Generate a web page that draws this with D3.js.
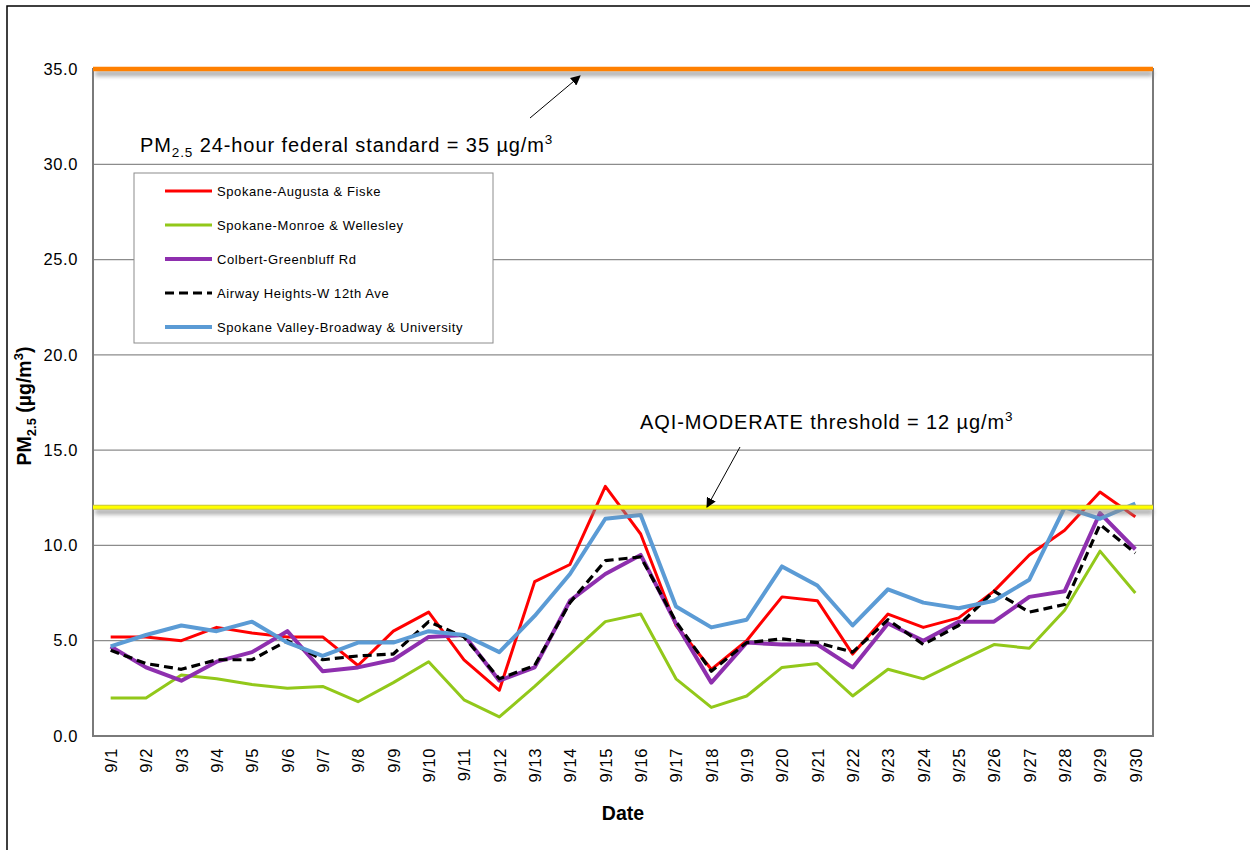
<!DOCTYPE html>
<html>
<head>
<meta charset="utf-8">
<script src="https://cdn.jsdelivr.net/npm/d3@7"></script>
<style>
  body { margin: 0; background: #fff; }
  svg text { font-family: "Liberation Sans", Arial, sans-serif; fill: #000; }
</style>
</head>
<body>
<div id="chart"></div>
<script>
// Daily PM2.5, September
const dates = ["9/1","9/2","9/3","9/4","9/5","9/6","9/7","9/8","9/9","9/10",
  "9/11","9/12","9/13","9/14","9/15","9/16","9/17","9/18","9/19","9/20",
  "9/21","9/22","9/23","9/24","9/25","9/26","9/27","9/28","9/29","9/30"]

const augusta = [5.2,5.2,5.0,5.7,5.4,5.2,5.2,3.7,5.5,6.5,4.0,2.4,8.1,9.0,13.1,10.6,5.8,3.5,5.0,7.3,7.1,4.3,6.4,5.7,6.2,7.6,9.5,10.8,12.8,11.5]
const monroe  = [2.0,2.0,3.2,3.0,2.7,2.5,2.6,1.8,2.8,3.9,1.9,1.0,2.6,4.3,6.0,6.4,3.0,1.5,2.1,3.6,3.8,2.1,3.5,3.0,3.9,4.8,4.6,6.6,9.7,7.5]
const colbert = [4.7,3.6,2.9,3.9,4.4,5.5,3.4,3.6,4.0,5.2,5.3,2.9,3.6,7.1,8.5,9.5,5.9,2.8,4.9,4.8,4.8,3.6,5.9,5.0,6.0,6.0,7.3,7.6,11.7,9.8]
const airway  = [4.5,3.8,3.5,4.0,4.0,5.0,4.0,4.2,4.3,6.0,5.2,3.0,3.7,7.0,9.2,9.4,6.0,3.4,4.9,5.1,4.9,4.4,6.1,4.8,5.8,7.6,6.5,6.9,11.1,9.6]
const valley  = [4.7,5.3,5.8,5.5,6.0,4.9,4.2,4.9,4.9,5.5,5.3,4.4,6.3,8.5,11.4,11.6,6.8,5.7,6.1,8.9,7.9,5.8,7.7,7.0,6.7,7.1,8.2,12.0,11.4,12.2]

const seriesNames = ["Spokane-Augusta & Fiske", "Spokane-Monroe & Wellesley",
  "Colbert-Greenbluff Rd", "Airway Heights-W 12th Ave", "Spokane Valley-Broadway & University"]
const yTicks = [0, 5, 10, 15, 20, 25, 30, 35]
const federalStandard = 35
const aqiModerate = 12

// styles per series (same order as seriesNames)
const styles = [
  { color: "#ff0000", width: 3, dash: null },
  { color: "#92c81a", width: 3, dash: null },
  { color: "#8e2fae", width: 4, dash: null },
  { color: "#000000", width: 3.2, dash: "9,5" },
  { color: "#5b9bd5", width: 4, dash: null }
]
const series = [augusta, monroe, colbert, airway, valley].map((values, i) => ({
  name: seriesNames[i], values, ...styles[i]
}))

const W = 1250, H = 850
const plot = { left: 93, top: 69, right: 1153, bottom: 736 }

const svg = d3.select("#chart").append("svg")
  .attr("width", W).attr("height", H)

const defs = svg.append("defs")
defs.append("filter").attr("id", "shadow")
  .attr("filterUnits", "userSpaceOnUse")
  .attr("x", 0).attr("y", 0).attr("width", W).attr("height", H)
  .append("feGaussianBlur").attr("stdDeviation", 2.2)
const marker = defs.append("marker").attr("id", "arrow")
  .attr("viewBox", "0 0 10 10").attr("refX", 9).attr("refY", 5)
  .attr("markerWidth", 10).attr("markerHeight", 10)
  .attr("markerUnits", "userSpaceOnUse").attr("orient", "auto")
marker.append("path").attr("d", "M0,0 L10,5 L0,10 z").attr("fill", "#000")

// outer chart frame
svg.append("rect").attr("x", 7).attr("y", 6).attr("width", W).attr("height", H)
  .attr("fill", "#fff").attr("stroke", "#000").attr("stroke-width", 1.5)

const x = d3.scalePoint().domain(dates)
  .range([plot.left, plot.right]).padding(0.5)
const y = d3.scaleLinear().domain([0, 35]).range([plot.bottom, plot.top])

// gridlines
svg.append("g").selectAll("line").data(yTicks.filter(t => t > 0 && t < 35)).join("line")
  .attr("x1", plot.left).attr("x2", plot.right)
  .attr("y1", d => y(d)).attr("y2", d => y(d))
  .attr("stroke", "#8c8c8c").attr("stroke-width", 1.2)

// plot border
svg.append("rect")
  .attr("x", plot.left).attr("y", plot.top)
  .attr("width", plot.right - plot.left).attr("height", plot.bottom - plot.top)
  .attr("fill", "none").attr("stroke", "#7a7a7a").attr("stroke-width", 2)

// y axis labels
const yAxis = svg.append("g").attr("transform", `translate(${plot.left},0)`)
  .call(d3.axisLeft(y).tickValues(yTicks).tickFormat(d3.format(".1f")).tickSize(0).tickPadding(15))
yAxis.select(".domain").remove()
yAxis.selectAll("text").style("font-size", "16.5px").style("letter-spacing", "0.6px")
  .style("font-family", "Liberation Sans, Arial, sans-serif").attr("fill", "#000")

// x axis labels (rotated)
const xAxis = svg.append("g").attr("transform", `translate(0,${plot.bottom})`)
  .call(d3.axisBottom(x).tickSize(0))
xAxis.select(".domain").remove()
xAxis.selectAll("text")
  .style("font-size", "16.5px").style("letter-spacing", "0.6px")
  .style("font-family", "Liberation Sans, Arial, sans-serif").attr("fill", "#000")
  .attr("text-anchor", "end").attr("dy", "0.35em")
  .attr("transform", "translate(0,12) rotate(-90)")
  .attr("x", 0).attr("y", 0)

// axis titles
svg.append("text").attr("x", (plot.left + plot.right) / 2).attr("y", 820)
  .attr("text-anchor", "middle").style("font-size", "19.5px").style("font-weight", "bold")
  .text("Date")

const yTitle = svg.append("text").attr("transform", "translate(31,406) rotate(-90)")
  .attr("text-anchor", "middle").style("font-size", "19.5px").style("font-weight", "bold")
yTitle.append("tspan").text("PM")
yTitle.append("tspan").attr("dy", 5).style("font-size", "13px").text("2.5")
yTitle.append("tspan").attr("dy", -5).text(" (\u00b5g/m")
yTitle.append("tspan").attr("dy", -8).style("font-size", "13px").text("3")
yTitle.append("tspan").attr("dy", 8).text(")")

// series lines
const line = d3.line().x((d, i) => x(dates[i])).y(d => y(d))
svg.append("g").selectAll("path").data(series).join("path")
  .attr("d", d => line(d.values))
  .attr("fill", "none")
  .attr("stroke", d => d.color)
  .attr("stroke-width", d => d.width)
  .attr("stroke-dasharray", d => d.dash)
  .attr("stroke-linejoin", "round")

// standard lines with shadow underneath
function standardLine(value, color, edge) {
  const g = svg.append("g")
  g.append("rect").attr("x", plot.left + 2).attr("width", plot.right - plot.left - 2)
    .attr("y", y(value) + 2).attr("height", 5)
    .attr("fill", "#8a8a8a").attr("opacity", 0.75)
    .attr("filter", "url(#shadow)")
  if (edge) {
    g.append("line").attr("x1", plot.left).attr("x2", plot.right)
      .attr("y1", y(value)).attr("y2", y(value))
      .attr("stroke", edge).attr("stroke-width", 5)
  }
  g.append("line").attr("x1", plot.left).attr("x2", plot.right)
    .attr("y1", y(value)).attr("y2", y(value))
    .attr("stroke", color).attr("stroke-width", edge ? 3 : 4.5)
}
standardLine(federalStandard, "#ff8000", null)
standardLine(aqiModerate, "#ffff00", "#c8c440")

// annotations
function label(xPos, yPos, prefix, sub) {
  const t = svg.append("text").attr("x", xPos).attr("y", yPos)
    .style("font-size", "20px").style("letter-spacing", "0.9px")
  if (sub) {
    t.append("tspan").text("PM")
    t.append("tspan").attr("dy", 5).style("font-size", "13.5px").text("2.5")
    t.append("tspan").attr("dy", -5).text(prefix)
  } else {
    t.append("tspan").text(prefix)
  }
  t.append("tspan").text("\u00b5g/m")
  t.append("tspan").attr("dy", -8).style("font-size", "13.5px").text("3")
}
label(140, 152, " 24-hour federal standard = " + federalStandard + " ", true)
label(640, 429, "AQI-MODERATE threshold = " + aqiModerate + " ", false)

svg.append("line").attr("x1", 530).attr("y1", 118).attr("x2", 580).attr("y2", 76)
  .attr("stroke", "#000").attr("stroke-width", 1).attr("marker-end", "url(#arrow)")
svg.append("line").attr("x1", 740).attr("y1", 447).attr("x2", 707).attr("y2", 507)
  .attr("stroke", "#000").attr("stroke-width", 1).attr("marker-end", "url(#arrow)")

// legend
const legend = svg.append("g").attr("transform", "translate(134,173)")
legend.append("rect").attr("width", 359).attr("height", 170)
  .attr("fill", "#fff").attr("stroke", "#8c8c8c").attr("stroke-width", 1)
const item = legend.selectAll("g").data(series).join("g")
  .attr("transform", (d, i) => `translate(0,${18 + i * 34})`)
item.append("line").attr("x1", 31).attr("x2", 78)
  .attr("stroke", d => d.color).attr("stroke-width", d => d.width)
  .attr("stroke-dasharray", d => d.dash)
item.append("text").attr("x", 83).attr("dy", "0.35em")
  .style("font-size", "13px").style("letter-spacing", "0.6px")
  .attr("fill", "#222").text(d => d.name)
</script>
</body>
</html>
